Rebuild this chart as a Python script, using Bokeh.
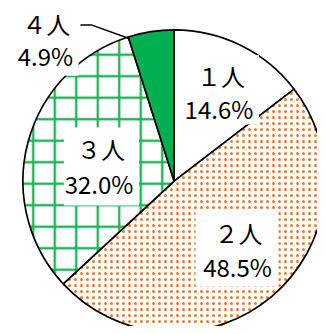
import math
from bokeh.plotting import figure
from bokeh.models import Range1d
from bokeh.core.properties import value
from bokeh.embed import file_html
from bokeh.resources import INLINE

# ---- data ----
categories = ["１人", "２人", "３人", "４人"]
shares = [14.6, 48.5, 32.0, 4.9]
pct_labels = ["14.6%", "48.5%", "32.0%", "4.9%"]

# ---- styles / layout ----
fill_colors = ["white", "white", "white", "#00B050"]
hatch_patterns = [" ", "dot", "cross", " "]
hatch_colors = ["#ED7D31", "#EC7A22", "#1FB558", "#00B050"]
hatch_scales = [6, 6.0, 21.5, 6]
hatch_weights = [1, 4.6, 2.4, 1]

W, H = 317, 326
REF_W, REF_H = 325, 334
def py(y):  # reference pixel y -> data y
    return REF_H - y

cx, cy, R = 178, py(185), 155

p = figure(width=W, height=H, output_backend="svg", toolbar_location=None,
           x_range=Range1d(0, REF_W), y_range=Range1d(0, REF_H),
           x_axis_location=None, y_axis_location=None, min_border=0,
           outline_line_color=None, background_fill_color="white",
           border_fill_color="white")
p.grid.visible = False

total = sum(shares)
starts, ends = [], []
cum = 0.0
for s in shares:
    starts.append(math.pi / 2 - 2 * math.pi * cum / total)
    cum += s
    ends.append(math.pi / 2 - 2 * math.pi * cum / total)

for i in range(len(shares)):
    kw = {}
    if hatch_patterns[i].strip():
        kw = dict(hatch_pattern=hatch_patterns[i], hatch_color=hatch_colors[i],
                  hatch_scale=hatch_scales[i], hatch_weight=hatch_weights[i])
    p.wedge(x=cx, y=cy, radius=R, start_angle=starts[i], end_angle=ends[i],
            direction="clock", fill_color=fill_colors[i], line_color="black",
            line_width=1.7, **kw)

# label positions (reference pixels): centre of name line, centre of pct line
name_pos = [(226, 77), (244, 238), (103, 152), (47, 24)]
pct_pos = [(224, 111), (243, 273), (101, 188), (46, 56)]
boxes = [(188, 265, 56, 127), (200, 285, 215, 293), (65, 142, 130, 210), (0, 80, 0, 77)]

p.quad(left=[b[0] for b in boxes], right=[b[1] for b in boxes],
       top=[py(b[2]) for b in boxes], bottom=[py(b[3]) for b in boxes],
       fill_color="white", line_color=None)

# leader line for 4人
p.line(x=[82, 93, 132], y=[py(25), py(25), py(39)], line_color="black", line_width=1.5)

font = value("Noto Sans CJK JP")
p.text(x=[q[0] for q in name_pos], y=[py(q[1]) for q in name_pos], text=categories,
       text_font=font, text_font_size="24px", text_align="center",
       text_baseline="middle", text_color="black")
p.text(x=[q[0] for q in pct_pos], y=[py(q[1]) for q in pct_pos], text=pct_labels,
       text_font=font, text_font_size="24px", text_align="center",
       text_baseline="middle", text_color="black")

open("out.html", "w").write(file_html(p, INLINE))
